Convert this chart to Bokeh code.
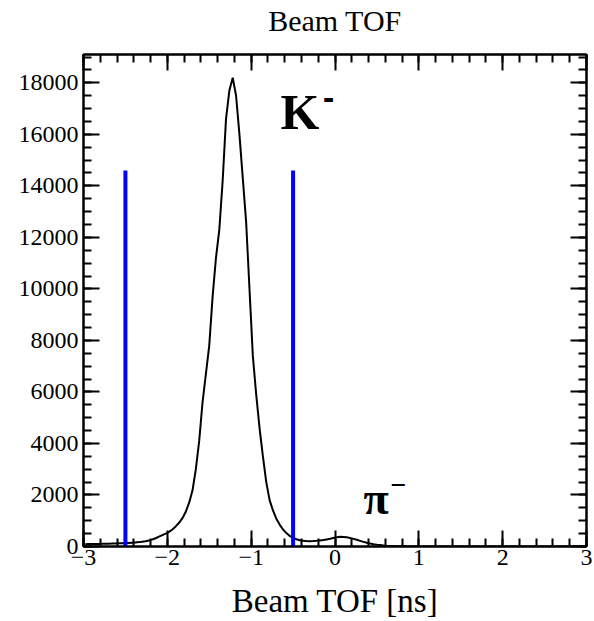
import numpy as np
from bokeh.plotting import figure
from bokeh.models import Range1d, LinearAxis, SingleIntervalTicker, CustomJSTickFormatter, Label
from bokeh.embed import file_html
from bokeh.resources import INLINE

# ---------------- data ----------------
BIN_LOW, BIN_HIGH = -3.0, 3.0
counts = [
    90, 95, 95, 100, 100, 105, 110, 110, 115, 120,
    125, 130, 135, 140, 150, 160, 170, 185, 200, 230,
    270, 320, 380, 440, 500, 570, 660, 780, 920, 1100,
    1350, 1700, 2170, 3000, 4100, 5600, 6700, 7800, 9700, 11200,
    12300, 14200, 16600, 17700, 18200, 17500, 16000, 14300, 12600, 10000,
    7400, 5900, 4600, 3500, 2500, 1800, 1400, 1080, 850, 660,
    520, 410, 330, 280, 240, 220, 210, 205, 210, 220,
    235, 250, 275, 300, 330, 360, 375, 370, 355, 330,
    295, 260, 220, 180, 145, 115, 90, 70, 55, 40,
    30, 22, 16, 12, 9, 7, 5, 4, 3, 3,
    2, 2, 2, 2, 1, 1, 1, 1, 1, 1,
    1, 1, 1, 0, 1, 0, 1, 0, 0, 1,
    0, 0, 0, 1, 0, 0, 0, 0, 0, 0,
    0, 0, 0, 0, 0, 0, 0, 0, 0, 0,
    0, 0, 0, 0, 0, 0, 0, 0, 0, 0,
]
cut_x = [-2.5, -0.5]
cut_top = [14600, 14600]
x_ticks = [-3, -2, -1, 0, 1, 2, 3]
x_tick_labels = ["\u22123", "\u22122", "\u22121", "0", "1", "2", "3"]
TITLE = "Beam TOF"

# ---------------- figure ----------------
FONT = "Liberation Serif"
p = figure(width=594, height=621, output_backend="svg", toolbar_location=None,
           x_range=Range1d(-3, 3), y_range=Range1d(0, 19100),
           min_border_left=83, min_border_right=8, min_border_top=54, min_border_bottom=75)

p.xgrid.visible = False
p.ygrid.visible = False
p.outline_line_color = "black"
p.outline_line_width = 2
p.background_fill_color = "white"
p.border_fill_color = "white"

def style_axis(ax, labels=True):
    ax.axis_line_color = "black"
    ax.axis_line_width = 2
    ax.major_tick_in = 16
    ax.major_tick_out = 0
    ax.minor_tick_in = 8
    ax.minor_tick_out = 0
    ax.major_tick_line_width = 2
    ax.minor_tick_line_width = 2
    ax.major_tick_line_color = "black"
    ax.minor_tick_line_color = "black"
    ax.major_label_text_font = FONT
    ax.major_label_text_font_size = "24px"
    ax.major_label_text_color = "black"
    ax.axis_label_text_font = FONT
    ax.axis_label_text_font_style = "normal"
    ax.axis_label_text_font_size = "33px"
    ax.axis_label_text_color = "black"
    if not labels:
        ax.formatter = CustomJSTickFormatter(code="return ''")
        ax.major_label_text_font_size = "1px"

p.xaxis.ticker = SingleIntervalTicker(interval=1, num_minor_ticks=5)
p.yaxis.ticker = SingleIntervalTicker(interval=2000, num_minor_ticks=4)
p.xaxis.major_label_overrides = {t: l for t, l in zip(x_ticks, x_tick_labels)}
p.xaxis.axis_label = "Beam TOF [ns]"
p.xaxis.major_label_standoff = 3
p.yaxis.major_label_standoff = 5
p.xaxis.axis_label_standoff = 15
for ax in p.xaxis + p.yaxis:
    style_axis(ax)

# top axis carries the histogram title
top = LinearAxis(ticker=SingleIntervalTicker(interval=1, num_minor_ticks=5))
right = LinearAxis(ticker=SingleIntervalTicker(interval=2000, num_minor_ticks=4))
style_axis(top, labels=False)
style_axis(right, labels=False)
top.axis_label = TITLE
top.axis_label_text_font_size = "30px"
top.major_label_standoff = 0
top.axis_label_standoff = 18
p.add_layout(top, "above")
p.add_layout(right, "right")

# histogram drawn through bin centres
edges = np.linspace(BIN_LOW, BIN_HIGH, len(counts) + 1)
centers = 0.5 * (edges[:-1] + edges[1:])
p.line(centers, counts, line_color="black", line_width=2)

# cut lines
p.segment(x0=cut_x, y0=[0, 0], x1=cut_x, y1=cut_top, line_color="#0000ff", line_width=4)

# particle labels
p.add_layout(Label(x=-0.65, y=16850, text="K", text_font=FONT, text_font_style="bold",
                   text_font_size="50px", text_color="black", text_baseline="alphabetic"))
p.add_layout(Label(x=-0.077, y=17420, text="-", text_font="DejaVu Sans", text_font_style="bold",
                   text_font_size="28px", text_color="black", text_align="center",
                   text_baseline="alphabetic"))
p.add_layout(Label(x=0.34, y=1860, text="\u03c0", text_font=FONT, text_font_style="bold",
                   text_font_size="46px", text_color="black", text_baseline="alphabetic"))
p.add_layout(Label(x=0.757, y=2369, text="\u2212", text_font=FONT, text_font_style="bold",
                   text_font_size="28px", text_color="black", text_align="center",
                   text_baseline="middle"))

open("out.html", "w").write(file_html(p, INLINE))
